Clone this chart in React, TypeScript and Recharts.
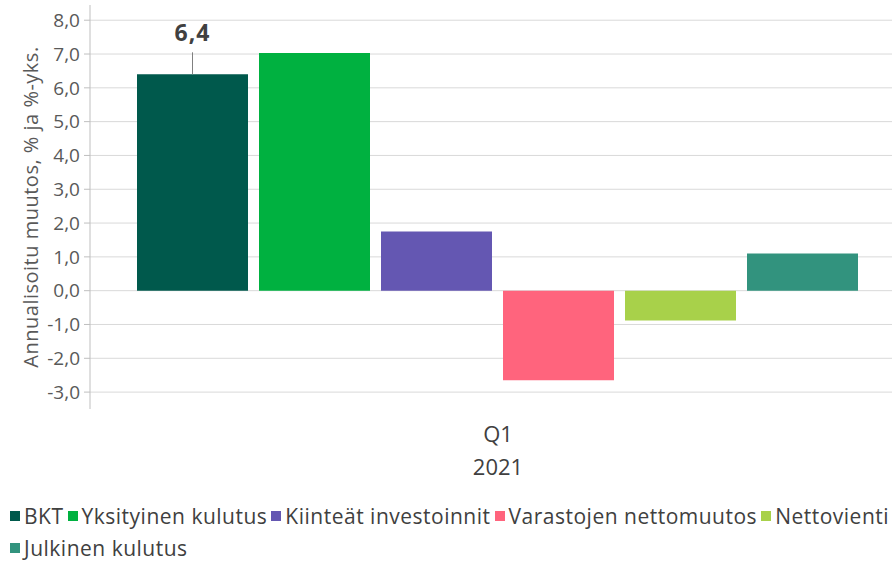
import { BarChart, Bar, XAxis, YAxis, CartesianGrid, LabelList } from "recharts";

const periods = ["Q1"];
const years = ["2021"];

const seriesNames = [
  "BKT",
  "Yksityinen kulutus",
  "Kiinteät investoinnit",
  "Varastojen nettomuutos",
  "Nettovienti",
  "Julkinen kulutus",
];
const seriesValues = [6.4, 7.03, 1.75, -2.65, -0.88, 1.1];
const seriesColors = ["#00594C", "#00B140", "#6457B2", "#FF647D", "#A8D14A", "#32937E"];

const yTicks = [-3, -2, -1, 0, 1, 2, 3, 4, 5, 6, 7, 8];

const data = periods.map((p, i) => {
  const row: Record<string, string | number> = { period: p, year: years[i] };
  seriesNames.forEach((n, j) => (row[n] = seriesValues[j]));
  return row;
});

const FONT = "'Open Sans', sans-serif";
const fmt = (v: number) => v.toFixed(1).replace(".", ",");

const CategoryTick = (props: any) => {
  const { x, y, index } = props;
  return (
    <g>
      <text x={x} y={y + 25} textAnchor="middle" fontFamily={FONT} fontSize={22} fill="#404040">
        {periods[index]}
      </text>
      <text x={x} y={y + 58} textAnchor="middle" fontFamily={FONT} fontSize={22} fill="#404040">
        {years[index]}
      </text>
    </g>
  );
};

const CalloutLabel = (props: any) => {
  const { x, y, width, value } = props;
  const cx = x + width / 2;
  return (
    <g>
      <line x1={cx} y1={y} x2={cx} y2={y - 22} stroke="#808080" strokeWidth={1} />
      <text
        x={cx}
        y={y - 33}
        textAnchor="middle"
        fontFamily={FONT}
        fontWeight={700}
        fontSize={23}
        letterSpacing={1}
        fill="#404040"
      >
        {fmt(value)}
      </text>
    </g>
  );
};

const AxisTitle = (props: any) => {
  const vb = props.viewBox || {};
  const cx = 30;
  const cy = (vb.y ?? 0) + (vb.height ?? 0) / 2;
  return (
    <text
      x={cx}
      y={cy}
      transform={`rotate(-90, ${cx}, ${cy})`}
      textAnchor="middle"
      dominantBaseline="central"
      fontFamily={FONT}
      fontSize={20}
      letterSpacing={0.5}
      fill="#595959"
    >
      Annualisoitu muutos, % ja %-yks.
    </text>
  );
};

export default function App() {
  return (
    <div style={{ position: "absolute", left: 0, top: 0, width: 892, height: 561, overflow: "hidden", background: "#fff" }}>
      <BarChart
        width={906}
        height={561}
        data={data}
        margin={{ top: 5, right: 0, bottom: 91, left: 0 }}
        barCategoryGap={47}
        barGap={11}
      >
        <CartesianGrid vertical={false} stroke="#d9d9d9" horizontalValues={yTicks} />
        <XAxis dataKey="period" axisLine={false} tickLine={false} height={61} tick={<CategoryTick />} />
        <YAxis
          width={90}
          domain={[-3.5, 8.45]}
          ticks={yTicks}
          allowDataOverflow
          tickFormatter={fmt}
          axisLine={{ stroke: "#bfbfbf" }}
          tickLine={{ stroke: "#bfbfbf" }}
          tickSize={6}
          tickMargin={4}
          tick={{ fontFamily: FONT, fontSize: 19, fill: "#595959" }}
          label={<AxisTitle />}
        />
        {seriesNames.map((n, i) => (
          <Bar key={n} dataKey={n} fill={seriesColors[i]} isAnimationActive={false}>
            {i === 0 && <LabelList dataKey={n} content={<CalloutLabel />} />}
          </Bar>
        ))}
      </BarChart>
      <div
        style={{
          position: "absolute",
          left: 10,
          top: 502,
          width: 885,
          display: "flex",
          flexWrap: "wrap",
          rowGap: 4,
          fontFamily: FONT,
          fontSize: 21,
          letterSpacing: 0.5,
          color: "#404040",
          lineHeight: "28px",
        }}
      >
        {seriesNames.map((n, i) => (
          <div key={n} style={{ display: "flex", alignItems: "center", marginRight: 4 }}>
            <span style={{ width: 10, height: 10, background: seriesColors[i], marginRight: 4, display: "inline-block" }} />
            <span>{n}</span>
          </div>
        ))}
      </div>
    </div>
  );
}
